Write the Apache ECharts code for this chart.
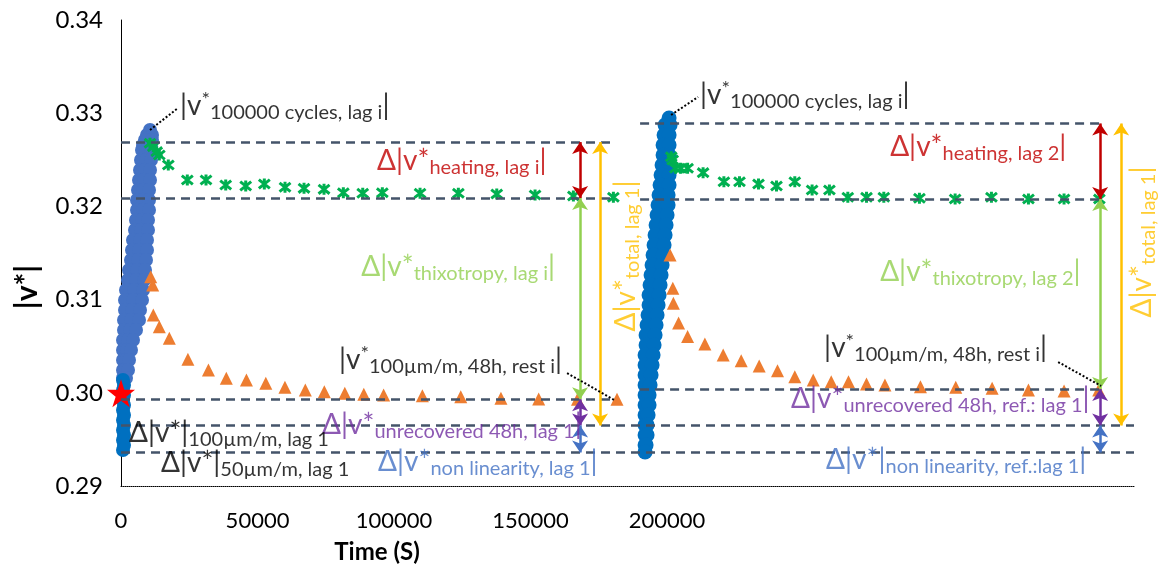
<!DOCTYPE html>
<html><head><meta charset="utf-8">
<script src="https://cdn.jsdelivr.net/npm/echarts@6/dist/echarts.min.js"></script>
<style>html,body{margin:0;padding:0;background:#fff}#c{width:1164px;height:572px}</style>
</head><body><div id="c"></div><script>
const FONT = 'Lato, "Open Sans", sans-serif';

// ---------- axes ----------
const X_MAX = 371000;
const yTickValues = [0.29, 0.30, 0.31, 0.32, 0.33, 0.34];
const xTickLabels = ['0', '50000', '100000', '150000', '200000'];

// ---------- data ----------
// cycling band, lag 1 (100000 cycles): [v, t...] rows read from the blob
const lag1CycleRows = [
  [0.32820, 10623],
  [0.32766, 9524, 11355],
  [0.32712, 8791, 11355],
  [0.32659, 8059, 9524, 10989],
  [0.32605, 7692, 9158, 10989],
  [0.32498, 7326, 9158, 10989],
  [0.32391, 6960, 8791, 10623],
  [0.32283, 6593, 8425, 10623],
  [0.32176, 6227, 8059, 10256],
  [0.32069, 5861, 8059, 10256],
  [0.31961, 5861, 8059, 10256],
  [0.31854, 5495, 7692, 9890],
  [0.31747, 5128, 7326, 9890],
  [0.31639, 4396, 6960, 9524],
  [0.31532, 4029, 6593, 9524],
  [0.31425, 3663, 6227, 9158],
  [0.31318, 2930, 5861, 8791],
  [0.31210, 2564, 5495, 8425],
  [0.31103, 1832, 4762, 8059],
  [0.30996, 1465, 4396, 7692],
  [0.30888, 1465, 4029, 6960],
  [0.30781, 1099, 3663, 6593],
  [0.30674, 1099, 3297, 5495],
  [0.30567, 733, 2564, 4396],
  [0.30459, 733, 2198, 3663],
  [0.30352, 733, 1832, 2930],
  [0.30245, 733, 1465, 2564],
  [0.30159, 733, 1832]
];
// strain sweep column at t = 0, lag 1: [t, v]
const lag1StrainPts = [
  [733, 0.30137], [1099, 0.30084], [733, 0.30030], [1099, 0.29976], [733, 0.29923],
  [1099, 0.29869], [733, 0.29815], [1099, 0.29762], [733, 0.29708], [1099, 0.29655],
  [733, 0.29601], [1099, 0.29547], [733, 0.29494], [1099, 0.29440], [733, 0.29386]
];
// cycling band, lag 2: [v, t...]
const lag2CycleRows = [
  [0.32949, 200732],
  [0.32873, 199267, 201099],
  [0.32766, 198901, 200732],
  [0.32659, 198535, 200732],
  [0.32552, 198535, 200732],
  [0.32444, 198168, 200732],
  [0.32337, 197802, 200732],
  [0.32230, 197436, 200732],
  [0.32122, 197069, 200366],
  [0.32015, 196703, 200366],
  [0.31908, 196337, 200000],
  [0.31800, 195971, 199634],
  [0.31693, 195604, 199267],
  [0.31586, 195238, 198901],
  [0.31479, 194872, 198535],
  [0.31371, 194505, 198168],
  [0.31264, 194139, 197802],
  [0.31157, 193773, 197436],
  [0.31049, 193406, 197069],
  [0.30942, 193406, 196703],
  [0.30835, 193040, 196337],
  [0.30727, 192674, 195971],
  [0.30620, 192307, 195604],
  [0.30513, 192307, 195238],
  [0.30406, 191941, 194872],
  [0.30298, 191941, 194505],
  [0.30191, 191941, 194139],
  [0.30084, 191941, 193773],
  [0.29976, 191941, 193406],
  [0.29869, 191941, 193406],
  [0.29762, 191941, 193040],
  [0.29655, 191941, 192674],
  [0.29547, 191941, 192674],
  [0.29440, 191941, 192307],
  [0.29365, 191941]
];
// recovery after heating (green stars)
const lag1HeatT = [10623, 11831, 13077, 14029, 17326, 24286, 31136, 38352, 45678, 52491, 60073, 67033, 74359, 81429, 88535, 95714, 109524, 123553, 137619, 151648, 165678, 180330];
const lag1HeatV = [0.32677, 0.32641, 0.32587, 0.32551, 0.32444, 0.32283, 0.32283, 0.32230, 0.32219, 0.32240, 0.32205, 0.32194, 0.32183, 0.32147, 0.32141, 0.32147, 0.32141, 0.32141, 0.32133, 0.32122, 0.32112, 0.32098];
const lag2HeatT = [201536, 202049, 203074, 204979, 207507, 213185, 220804, 226518, 233478, 240071, 246774, 253111, 259448, 266188, 273038, 279375, 292415, 305492, 318788, 332342, 345382, 358312];
const lag2HeatV = [0.32533, 0.32498, 0.32409, 0.32409, 0.32409, 0.32362, 0.32265, 0.32265, 0.32240, 0.32219, 0.32265, 0.32176, 0.32176, 0.32098, 0.32098, 0.32098, 0.32087, 0.32079, 0.32098, 0.32079, 0.32079, 0.32079];
// rest at 100 µm/m (orange triangles)
const lag1RestT = [10879, 11612, 11831, 14029, 17692, 24505, 32015, 38571, 45934, 53040, 60036, 67509, 74469, 81978, 88937, 96190, 110366, 124432, 139158, 152968, 167180, 181648];
const lag1RestV = [0.31246, 0.31157, 0.30835, 0.30709, 0.30585, 0.30359, 0.30245, 0.30156, 0.30137, 0.30102, 0.30059, 0.30030, 0.30012, 0.29995, 0.29984, 0.29976, 0.29969, 0.29958, 0.29941, 0.29933, 0.29930, 0.29930];
const lag2RestT = [201099, 202088, 202308, 204213, 207510, 213847, 220550, 227144, 233737, 240441, 246778, 253518, 260111, 266448, 273042, 279782, 292786, 305717, 319050, 332347, 345387, 358060];
const lag2RestV = [0.31479, 0.31121, 0.30960, 0.30749, 0.30604, 0.30524, 0.30406, 0.30344, 0.30288, 0.30237, 0.30173, 0.30137, 0.30119, 0.30119, 0.30094, 0.30084, 0.30065, 0.30059, 0.30048, 0.30030, 0.30019, 0.30030];
// reference point (red star)
const refPoint = [0, 0.29995];

// reference levels: [tStart, tEnd, v]
const levelLines = [
  [0, 180950, 0.3269], [0, 180950, 0.3209], [0, 180950, 0.2993],
  [0, 371000, 0.2965], [0, 371000, 0.2936],
  [190110, 358608, 0.3289], [190110, 358608, 0.3208], [190110, 358608, 0.3004]
];
// difference arrows: [t, vFrom, vTo]
const arrowsHeating = [[168132, 0.3269, 0.3209], [358608, 0.3289, 0.3208]];
const arrowsThixo = [[168132, 0.3209, 0.2993], [358608, 0.3208, 0.3004]];
const arrowsTotal = [[175458, 0.3269, 0.2965], [366300, 0.3289, 0.2965]];
const arrowsUnrec = [[168132, 0.2993, 0.2965], [358608, 0.3004, 0.2965]];
const arrowsNonlin = [[168132, 0.2965, 0.2936], [358608, 0.2965, 0.2936]];
// dotted leaders: [t1, v1, t2, v2]
const leaders = [
  [10623, 0.32820, 20879, 0.33056],
  [201465, 0.32981, 211355, 0.33174],
  [163370, 0.30212, 180586, 0.29923],
  [343223, 0.30330, 358974, 0.30073]
];

// ---------- styles ----------
const C = { black: '#000000', red: '#C00000', green: '#92D050', yellow: '#FFC000', purple: '#7030A0', blue: '#4472C4' };
const BIG = 28, SUB = 20, LH = 33;
function rich(color) {
  return {
    B: { fontSize: BIG, fontFamily: FONT, color: color, lineHeight: LH },
    P: { fontSize: SUB, fontFamily: FONT, color: color, verticalAlign: 'top' },
    S: { fontSize: SUB, fontFamily: FONT, color: color, verticalAlign: 'bottom' }
  };
}
// annotations: anchor (data coords), text, color, rotated
const annotations = [
  { at: [21612, 0.33077], text: '{B||v}{P|*}{S|100000 cycles, lag i}{B||}', color: C.black },
  { at: [212088, 0.33195], text: '{B||v}{P|*}{S|100000 cycles, lag i}{B||}', color: C.black },
  { at: [93773, 0.32487], text: '{B|Δ|v*}{S|heating, lag i}{B||}', color: C.red },
  { at: [281685, 0.32641], text: '{B|Δ|v*}{S|heating, lag 2}{B||}', color: C.red },
  { at: [88000, 0.31350], text: '{B|Δ|v*}{S|thixotropy, lag i}{B||}', color: C.green },
  { at: [278022, 0.31296], text: '{B|Δ|v*}{S|thixotropy, lag 2}{B||}', color: C.green },
  { at: [184982, 0.31468], text: '{B|Δ|v*}{S|total, lag 1}{B||}', color: C.yellow, rot: true },
  { at: [373992, 0.31618], text: '{B|Δ|v*}{S|total, lag 1}{B||}', color: C.yellow, rot: true },
  { at: [79853, 0.30352], text: '{B||v}{P|*}{S|100µm/m, 48h, rest i}{B||}', color: C.black },
  { at: [257509, 0.30481], text: '{B||v}{P|*}{S|100µm/m, 48h, rest i}{B||}', color: C.black },
  { at: [73626, 0.29654], text: '{B|Δ|v*}{S|unrecovered 48h, lag 1}{B||}', color: C.purple },
  { at: [94139, 0.29258], text: '{B|Δ|v*}{S|non linearity, lag 1}{B||}', color: C.blue },
  { at: [2930, 0.29569], text: '{B|Δ|v*|}{S|100µm/m, lag 1}', color: C.black },
  { at: [14652, 0.29247], text: '{B|Δ|v*|}{S|50µm/m, lag 1}', color: C.black },
  { at: [245421, 0.29933], text: '{B|Δ|v*}{S|unrecovered 48h, ref.: lag 1}{B||}', color: C.purple },
  { at: [258242, 0.29279], text: '{B|Δ|v*|}{S|non linearity, ref.:lag 1}{B||}', color: C.blue }
];

// ---------- build ----------
const rowsToPts = rows => rows.flatMap(r => r.slice(1).map(t => [t, r[0]]));
const zip = (ts, vs) => ts.map((t, i) => [t, vs[i]]);
const STAR = 'path://M50,2L61.8,38.2L100,38.2L69.1,61.8L80.9,97.6L50,75.5L19.1,97.6L30.9,61.8L0,38.2L38.2,38.2Z';
const ASTER = 'path://M1,1L9,9M9,1L1,9M5,0L5,10';

const arrowPairs = (arr, color) => arr.map(a => [
  { coord: [a[0], a[1]], lineStyle: { color: color, width: 2.5, type: 'solid' } },
  { coord: [a[0], a[2]] }
]);

const chart = echarts.init(document.getElementById('c'), null, { renderer: 'canvas' });
chart.setOption({
  animation: false,
  backgroundColor: '#ffffff',
  grid: { left: 121, top: 20, width: 1013, height: 466, containLabel: false },
  xAxis: {
    type: 'value', min: 0, max: X_MAX, interval: 50000,
    axisLine: { show: true, lineStyle: { color: '#000', width: 1, type: 'dotted' } },
    axisTick: { show: false }, splitLine: { show: false },
    axisLabel: {
      fontSize: 22, color: '#000', fontFamily: FONT, margin: 24,
      formatter: v => { const i = Math.round(v / 50000); return (v % 50000 === 0 && i < xTickLabels.length) ? xTickLabels[i] : ''; }
    }
  },
  yAxis: {
    type: 'value', min: yTickValues[0], max: yTickValues[yTickValues.length - 1], interval: 0.01,
    axisLine: { show: true, lineStyle: { color: '#000', width: 1 } },
    axisTick: { show: false }, splitLine: { show: false },
    axisLabel: { fontSize: 24, color: '#000', fontFamily: FONT, margin: 18, formatter: v => v.toFixed(2) }
  },
  graphic: [
    { type: 'text', x: 27, y: 287, rotation: Math.PI / 2,
      style: { text: '|v*|', font: 'bold 30px ' + FONT, fill: '#000', align: 'center', verticalAlign: 'middle' } },
    { type: 'text', x: 377, y: 552,
      style: { text: 'Time (S)', font: 'bold 24px ' + FONT, fill: '#000', align: 'center', verticalAlign: 'middle' } }
  ],
  series: [
    { type: 'line', data: [], silent: true, z: 1,
      markLine: { silent: true, symbol: ['none', 'none'], label: { show: false }, animation: false,
        lineStyle: { color: '#44546A', width: 2.5, type: [9, 6] },
        data: levelLines.map(l => [{ coord: [l[0], l[2]] }, { coord: [l[1], l[2]] }]) } },
    { type: 'scatter', data: rowsToPts(lag1CycleRows), symbol: 'circle', symbolSize: 14, silent: true, z: 2,
      itemStyle: { color: '#4472C4', opacity: 1 } },
    { type: 'scatter', data: lag1StrainPts, symbol: 'circle', symbolSize: 14, silent: true, z: 2,
      itemStyle: { color: '#0070C0', opacity: 1 } },
    { type: 'scatter', data: rowsToPts(lag2CycleRows), symbol: 'circle', symbolSize: 15, silent: true, z: 2,
      itemStyle: { color: '#0070C0', opacity: 1 } },
    { type: 'scatter', data: zip(lag1HeatT, lag1HeatV).concat(zip(lag2HeatT, lag2HeatV)), symbol: ASTER, symbolSize: 11,
      silent: true, z: 3, itemStyle: { color: '#00B050', borderColor: '#00B050', borderWidth: 3, opacity: 1 } },
    { type: 'scatter', data: zip(lag1RestT, lag1RestV).concat(zip(lag2RestT, lag2RestV)), symbol: 'triangle', symbolSize: 13,
      silent: true, z: 3, itemStyle: { color: '#ED7D31', opacity: 1 } },
    { type: 'scatter', data: [refPoint], symbol: STAR, symbolSize: 28, silent: true, z: 4,
      itemStyle: { color: '#FF0000', opacity: 1 } },
    { type: 'line', data: [], silent: true, z: 5,
      markLine: { silent: true, symbol: ['arrow', 'arrow'], symbolSize: 12, label: { show: false }, animation: false,
        data: [].concat(
          arrowPairs(arrowsHeating, C.red), arrowPairs(arrowsThixo, C.green), arrowPairs(arrowsTotal, C.yellow),
          arrowPairs(arrowsUnrec, C.purple), arrowPairs(arrowsNonlin, C.blue)) } },
    { type: 'line', data: [], silent: true, z: 5,
      markLine: { silent: true, symbol: ['none', 'none'], label: { show: false }, animation: false,
        lineStyle: { color: '#000', width: 2, type: 'dotted' },
        data: leaders.map(l => [{ coord: [l[0], l[1]] }, { coord: [l[2], l[3]] }]) } },
    { type: 'scatter', silent: true, z: 10, clip: false, symbolSize: 0.01,
      itemStyle: { color: 'rgba(0,0,0,0)' },
      data: annotations.map(a => ({
        value: a.at,
        label: {
          show: true, position: 'inside', formatter: () => a.text, rich: rich(a.color),
          align: a.rot ? 'center' : 'left', verticalAlign: 'middle', rotate: a.rot ? 90 : 0
        }
      })) }
  ]
});
</script></body></html>
